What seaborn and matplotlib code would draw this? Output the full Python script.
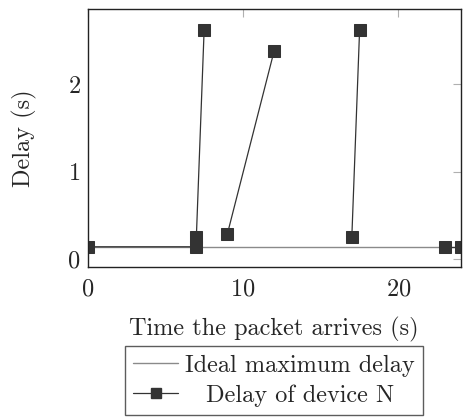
import pandas as pd
import numpy as np
import matplotlib
matplotlib.use("Agg")
import matplotlib.pyplot as plt
import seaborn as sns
from matplotlib.lines import Line2D

# ideal maximum delay (flat line)
ideal_t = [0, 24]
ideal_d = [0.14, 0.14]

# delay of device N, split into separate segments
delay_t = [0, 7, 7, 7.5, 9, 12, 17, 17.5, 23, 24]
delay_d = [0.14, 0.14, 0.25, 2.62, 0.29, 2.38, 0.25, 2.62, 0.14, 0.14]
delay_seg = [0, 0, 0, 0, 1, 1, 2, 2, 3, 3]

x_ticks = [0, 10, 20]
y_ticks = [0, 1, 2]


def make_plot():
    sns.set_style("white")
    plt.rcParams['font.family'] = ['cmr10', 'DejaVu Serif']
    plt.rcParams['axes.formatter.use_mathtext'] = True
    plt.rcParams['mathtext.fontset'] = 'cm'

    fig = plt.figure(figsize=(4.67, 4.17), dpi=100)
    ax = fig.add_axes([0.1874, 0.359, 0.799, 0.619])

    ideal = pd.DataFrame({'t': ideal_t, 'd': ideal_d})
    delay = pd.DataFrame({'t': delay_t, 'd': delay_d, 'seg': delay_seg})

    sns.lineplot(data=ideal, x='t', y='d', ax=ax, color='#8a8a8a', lw=1.0,
                 estimator=None, sort=False)
    sns.lineplot(data=delay, x='t', y='d', units='seg', estimator=None,
                 sort=False, ax=ax, color='#333333', lw=0.9, marker='s',
                 markersize=8.5, markeredgecolor='#333333')

    ax.set_xlim(0, 24)
    ax.set_ylim(-0.095, 2.86)
    ax.set_xticks(x_ticks)
    ax.set_yticks(y_ticks)
    ax.tick_params(direction='in', length=6, width=0.8, color='#b0b0b0',
                   top=True, right=True, labelsize=17.5, pad=8)
    ax.tick_params(axis='y', pad=5)
    for s in ax.spines.values():
        s.set_color('#222222')
        s.set_linewidth(1.0)

    ax.set_xlabel("Time the packet arrives (s)", fontsize=17.5, labelpad=12)
    ax.set_ylabel("Delay (s)", fontsize=17.5, labelpad=22)

    handles = [
        Line2D([], [], color='#8a8a8a', lw=1.0),
        Line2D([], [], color='#333333', lw=0.9, marker='s', markersize=7),
    ]
    labels = ["Ideal maximum delay", "  \u2009Delay of device N"]
    leg = fig.legend(handles, labels, loc='upper center',
                     bbox_to_anchor=(274 / 467, 1 - 346 / 417),
                     fontsize=17.5, frameon=True, fancybox=False,
                     handlelength=1.85, handletextpad=0.28, borderpad=0.35,
                     labelspacing=0.32, borderaxespad=0)
    leg.get_frame().set_edgecolor('#333333')
    leg.get_frame().set_linewidth(1.0)

    fig.savefig("out.png", dpi=100)


make_plot()
